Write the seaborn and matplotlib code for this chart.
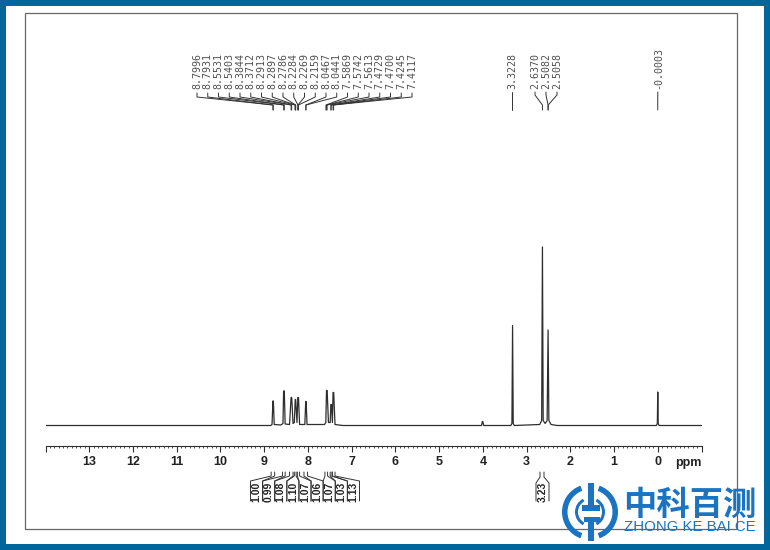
"""
1H NMR spectrum redrawn from a picture. Heights are in pixels above the baseline.
"""
import numpy as np
import matplotlib
matplotlib.use("Agg")
import matplotlib.pyplot as plt
from matplotlib.patches import Rectangle, Wedge
from matplotlib.ticker import MultipleLocator
import seaborn as sns

# spectrum trace
ppm = [14.0, 8.85, 8.82, 8.80, 8.79, 8.77, 8.62, 8.57, 8.555, 8.54, 8.52, 8.42, 8.385, 8.37, 8.34,
       8.31, 8.29, 8.28, 8.25, 8.23, 8.215, 8.19, 8.07, 8.05, 8.04, 8.02, 7.62, 7.59, 7.575, 7.56,
       7.53, 7.49, 7.475, 7.46, 7.44, 7.425, 7.41, 7.38, 7.2, 4.03, 4.01, 4.0, 3.98, 3.36, 3.335,
       3.32, 3.305, 3.28, 2.70, 2.655, 2.637, 2.62, 2.575, 2.53, 2.508, 2.49, 2.44, 2.3, 0.03, 0.01,
       0.0, -0.01, -0.03, -1.0]
intensity = [0, 0, 1, 24.5, 24.5, 1, 0.5, 2, 34.5, 34.5, 1.5, 1, 28, 28, 2,
             3, 26, 26, 3, 28, 28, 1, 1, 24, 24, 1, 1, 3, 35, 35,
             3, 3, 21, 21, 3, 33, 33, 1, 0, 0, 4, 4, 0, 0, 2,
             100, 2, 0, 1, 5, 178.5, 5, 2, 5, 95.5, 5, 1, 0, 0, 2,
             33.5, 2, 0, 0]

# peak picking labels
pick_high = ["8.7996", "8.7931", "8.5531", "8.5403", "8.3844", "8.3712", "8.2913", "8.2897",
             "8.2786", "8.2284", "8.2269", "8.2159", "8.0467", "8.0441", "7.5869", "7.5742",
             "7.5613", "7.4729", "7.4700", "7.4245", "7.4117"]
pick_low = ["3.3228", "2.6370", "2.5082", "2.5058", "-0.0003"]

# integrals: region limits in ppm and the value
int_left = [8.84, 8.58, 8.42, 8.31, 8.24, 8.09, 7.61, 7.49, 7.44]
int_right = [8.76, 8.52, 8.34, 8.27, 8.19, 8.01, 7.55, 7.45, 7.38]
int_vals = ["1.00", "0.99", "1.08", "1.10", "1.07", "1.06", "1.07", "1.03", "1.13"]
solv_int = "3.23"

major_ticks = list(range(0, 14))

W, H = 770, 550
BLUE = "#00669b"
LOGO = "#1a74c2"
INK = "#2e2e2e"


def px(x):
    # x pixel of a ppm value
    return 45.5 + (14.0 - x) * 656 / 15.0


sns.set_theme(style="white")
plt.rcParams["font.family"] = ["Liberation Sans", "DejaVu Sans"]

fig = plt.figure(figsize=(W / 100, H / 100), dpi=100, facecolor=BLUE)

# page in pixel coordinates: border, frame, labels, logo
page = fig.add_axes([0, 0, 1, 1], zorder=0)
page.set_xlim(0, W)
page.set_ylim(H, 0)
page.axis("off")
page.add_patch(Rectangle((6, 6), W - 12, H - 12, fc="white", ec="none"))
page.add_patch(Rectangle((25, 13), 712, 515.5, fc="none", ec="#666666", lw=0.9))

# spectrum axes, bottom spine is the ppm scale
ax = fig.add_axes([45.5 / W, (H - 446) / H, 656 / W, 346 / H], zorder=1)
ax.patch.set_alpha(0)
sns.lineplot(x=ppm, y=intensity, ax=ax, sort=False, estimator=None, color=INK, lw=0.9)
ax.set_xlim(14, -1)
ax.set_ylim(-20.5, 325.5)
sns.despine(ax=ax, left=True)
ax.spines["bottom"].set_color(INK)
ax.spines["bottom"].set_linewidth(0.8)
ax.set_yticks([])
ax.set_xticks(major_ticks + [14, -1])
ax.set_xticklabels([str(t) for t in major_ticks] + ["", ""], fontsize=9, fontweight="bold", color="#222222")
ax.xaxis.set_minor_locator(MultipleLocator(0.1))
ax.tick_params(axis="x", which="major", bottom=True, length=4, width=0.8, color=INK, pad=3.5)
ax.tick_params(axis="x", which="minor", bottom=True, length=1.5, width=0.6, color=INK)
page.text(688, 463, "ppm", ha="center", va="center", fontsize=9, fontweight="bold", color="#222222")

# peak picking, crowded group with fanned leaders
label_x = np.linspace(197, 412, len(pick_high))
for lab, lx in zip(pick_high, label_x):
    sx = px(float(lab))
    page.plot([lx, lx, sx, sx], [93, 97, 105, 110], color="#333333", lw=0.7)
    page.text(lx, 89, lab, rotation=90, ha="center", va="bottom", fontsize=7.2,
              family="DejaVu Sans Mono", color="#505050")
low_x = [px(3.3228), 535, 546, 557, px(0.0)]
for lab, lx in zip(pick_low, low_x):
    sx = px(abs(float(lab)))
    page.plot([lx, lx, sx, sx], [92, 95, 105, 110], color="#333333", lw=0.7)
    page.text(lx, 89, lab, rotation=90, ha="center", va="bottom", fontsize=7.2,
              family="DejaVu Sans Mono", color="#505050")

# integrals under the scale
walls = np.linspace(250.5, 359.5, len(int_vals) + 1)
for i, val in enumerate(int_vals):
    l, r = px(int_left[i]), px(int_right[i])
    page.plot([walls[i], walls[i], l, l], [501, 481, 476, 472], color="#333333", lw=0.7)
    page.plot([walls[i + 1], walls[i + 1], r, r], [501, 481, 476, 472], color="#333333", lw=0.7)
    page.text((walls[i] + walls[i + 1]) / 2, 491.5, val, rotation=90, ha="center", va="center",
              fontsize=7.5, fontweight="bold", color="#222222")
page.plot([536, 536, 540, 540], [501, 483, 477, 472], color="#333333", lw=0.7)
page.plot([549, 549, 544, 544], [501, 483, 477, 472], color="#333333", lw=0.7)
page.text(542.7, 492, solv_int, rotation=90, ha="center", va="center", fontsize=7.5,
          fontweight="bold", color="#222222")

# logo
page.add_patch(Wedge((590, 512), 28, -70, 70, width=5.5, fc=LOGO, ec="none"))
page.add_patch(Wedge((590, 512), 28, 110, 250, width=5.5, fc=LOGO, ec="none"))
page.add_patch(Wedge((590, 512), 15, 118, 242, width=3, fc=LOGO, ec="none"))
page.add_patch(Wedge((590, 512), 15, -62, 62, width=3, fc=LOGO, ec="none"))
page.add_patch(Rectangle((582, 505), 18, 5.5, fc=LOGO, ec="none"))
page.add_patch(Rectangle((587.5, 483), 6, 27, fc=LOGO, ec="none"))
page.add_patch(Rectangle((584, 517), 16, 4.5, fc=LOGO, ec="none"))
page.add_patch(Rectangle((587.5, 517), 6, 24, fc=LOGO, ec="none"))
page.text(690, 505, "中科百测", ha="center", va="center", fontsize=24, fontweight="bold",
          family="Noto Sans CJK SC", color=LOGO)
page.text(690, 527, "ZHONG KE BAI CE", ha="center", va="center", fontsize=10.8, color=LOGO)

fig.savefig("out.png", dpi=100, facecolor=BLUE)
